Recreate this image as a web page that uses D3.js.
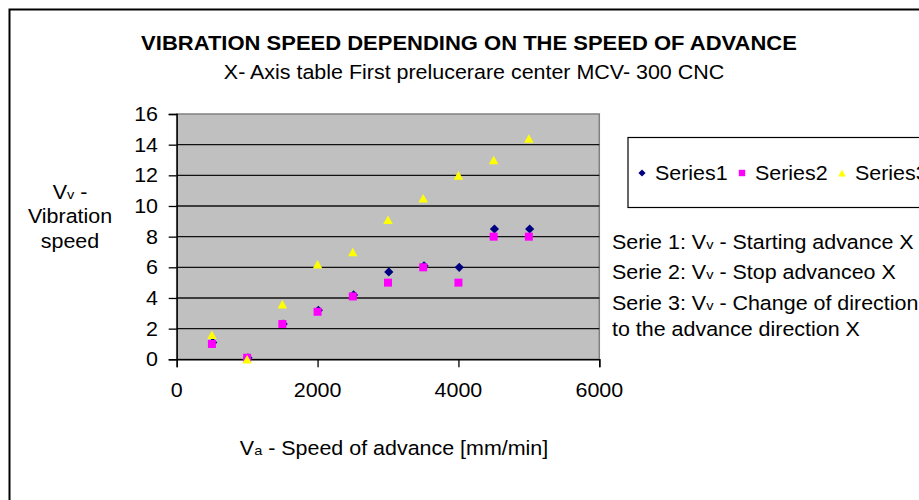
<!DOCTYPE html>
<html>
<head>
<meta charset="utf-8">
<script src="https://cdn.jsdelivr.net/npm/d3@7"></script>
<style>
  html, body { margin: 0; padding: 0; background: #fff; }
  svg { display: block; }
  text { font-family: "Liberation Sans", Arial, sans-serif; fill: #000; }
</style>
</head>
<body>
<svg id="chart" width="919" height="500"></svg>
<script>
// ---- data ----
const xValues = [500, 1000, 1500, 2000, 2500, 3000, 3500, 4000, 4500, 5000];
const series1 = [1.1, 0.1, 2.3, 3.2, 4.2, 5.7, 6.1, 6.0, 8.5, 8.5];
const series2 = [1.0, 0.1, 2.3, 3.1, 4.1, 5.0, 6.0, 5.0, 8.0, 8.0];
const series3 = [1.6, 0.0, 3.6, 6.2, 7.0, 9.1, 10.5, 12.0, 13.0, 14.4];
const seriesNames = ["Series1", "Series2", "Series3"];
const xTicks = [0, 2000, 4000, 6000];
const yTicks = [0, 2, 4, 6, 8, 10, 12, 14, 16];
const titleText = "VIBRATION SPEED DEPENDING ON THE SPEED OF ADVANCE";
const subtitleText = "X- Axis table First prelucerare center MCV- 300 CNC";
const notes = [
  [["Serie 1: V", 1], ["v", 0.68], [" - Starting advance X", 1]],
  [["Serie 2: V", 1], ["v", 0.68], [" - Stop advanceo X", 1]],
  [["Serie 3: V", 1], ["v", 0.68], [" - Change of direction", 1]],
  [["to the advance direction X", 1]]
];

const svg = d3.select("#chart");
const FS = 19.5, SX = 1.1;

// helper: horizontally stretched text
function label(x, y, anchor, parts, size, weight) {
  const t = svg.append("text")
    .attr("transform", `translate(${x},${y}) scale(${SX},1)`)
    .attr("text-anchor", anchor)
    .attr("font-size", size)
    .attr("font-weight", weight || "normal");
  parts.forEach(p => t.append("tspan").attr("font-size", size * p[1]).text(p[0]));
  return t;
}

// outer chart border
svg.append("path")
  .attr("d", "M9.5,510 L9.5,9.5 L930,9.5")
  .attr("fill", "none").attr("stroke", "#000").attr("stroke-width", 2);

// plot area
const P = { l: 176.7, r: 599.3, t: 114, b: 359.3 };
const x = d3.scaleLinear().domain([0, 6000]).range([P.l, P.r]);
const y = d3.scaleLinear().domain([0, 16]).range([P.b, P.t]);

svg.append("rect")
  .attr("x", P.l).attr("y", P.t).attr("width", P.r - P.l).attr("height", P.b - P.t)
  .attr("fill", "#C0C0C0").attr("stroke", "#808080").attr("stroke-width", 1.5);

// gridlines
svg.append("g").selectAll("line").data(yTicks.filter(d => d > 0 && d < 16)).join("line")
  .attr("x1", P.l).attr("x2", P.r).attr("y1", d => y(d)).attr("y2", d => y(d))
  .attr("stroke", "#111").attr("stroke-width", 1.3);

// axes
const yAxis = svg.append("g").attr("transform", `translate(${P.l},0)`)
  .call(d3.axisLeft(y).tickValues(yTicks).tickSize(8).tickFormat(""));
const xAxis = svg.append("g").attr("transform", `translate(0,${P.b})`)
  .call(d3.axisBottom(x).tickValues(xTicks).tickSize(8).tickFormat(""));
[yAxis, xAxis].forEach(a => {
  a.selectAll("path").attr("stroke", "#000").attr("stroke-width", 1.4);
  a.selectAll("line").attr("stroke", "#000").attr("stroke-width", 1.3);
});

// tick labels
yTicks.forEach(v => label(158, y(v) + 7, "end", [[String(v), 1]], FS));
xTicks.forEach(v => label(x(v), 397, "middle", [[String(v), 1]], FS));

// markers
const diamond = s => `M0,${-s}L${s},0L0,${s}L${-s},0Z`;
const square = s => `M${-s},${-s}H${s}V${s}H${-s}Z`;
const triangle = (w, h) => `M0,${-h / 2}L${w / 2},${h / 2}L${-w / 2},${h / 2}Z`;

const gPts = svg.append("g");
gPts.selectAll("path.s1").data(xValues.map((v, i) => [v, series1[i]])).join("path")
  .attr("class", "s1").attr("d", diamond(4.6)).attr("fill", "#000080")
  .attr("transform", d => `translate(${x(d[0]) + 0.8},${y(d[1])})`);
gPts.selectAll("path.s2").data(xValues.map((v, i) => [v, series2[i]])).join("path")
  .attr("class", "s2").attr("d", square(4)).attr("fill", "#FF00FF")
  .attr("transform", d => `translate(${x(d[0])},${y(d[1])})`);
gPts.selectAll("path.s3").data(xValues.map((v, i) => [v, series3[i]])).join("path")
  .attr("class", "s3").attr("d", triangle(9.5, 8.6)).attr("fill", "#FFFF00")
  .attr("transform", d => `translate(${x(d[0])},${y(d[1])})`);

// titles
label(469, 50, "middle", [[titleText, 1]], 20, "bold");
label(474, 79, "middle", [[subtitleText, 1]], FS);
label(394, 455, "middle", [["V", 1], ["a", 0.68], [" - Speed of advance [mm/min]", 1]], FS);
label(70, 199, "middle", [["V", 1], ["v", 0.68], [" -", 1]], FS);
label(70, 223, "middle", [["Vibration", 1]], FS);
label(70, 248, "middle", [["speed", 1]], FS);

// legend box
svg.append("rect").attr("x", 628).attr("y", 137.5).attr("width", 320).attr("height", 70)
  .attr("fill", "#fff").attr("stroke", "#000").attr("stroke-width", 1.2);
const legX = [642, 742, 842];
const legShapes = [diamond(3.6), square(3.2), triangle(7.5, 6.8)];
const legColors = ["#000080", "#FF00FF", "#FFFF00"];
seriesNames.forEach((n, i) => {
  svg.append("path").attr("d", legShapes[i]).attr("fill", legColors[i])
    .attr("transform", `translate(${legX[i]},173)`);
  label(legX[i] + 13, 180, "start", [[n, 1]], FS);
});

// notes
const noteY = [249, 279, 310, 336];
notes.forEach((parts, i) => label(612, noteY[i], "start", parts, FS));
</script>
</body>
</html>
